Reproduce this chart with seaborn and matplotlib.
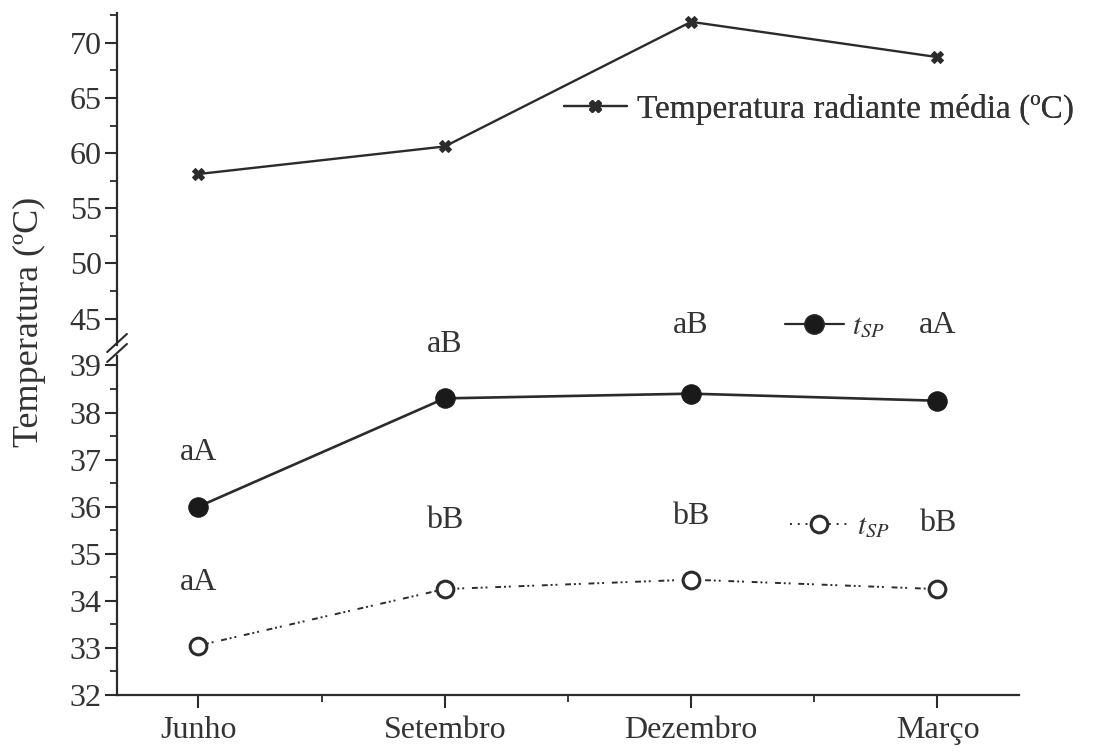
import numpy as np
import pandas as pd
import matplotlib
matplotlib.use("Agg")
import matplotlib.pyplot as plt
from matplotlib.ticker import MultipleLocator
from matplotlib.lines import Line2D
import seaborn as sns

# values
meses = ["Junho", "Setembro", "Dezembro", "Março"]
trm = [58.1, 60.6, 71.9, 68.7]          # temperatura radiante media
tsp_sol = [36.0, 38.3, 38.4, 38.25]     # t_SP (filled)
tsp_somb = [33.05, 34.25, 34.45, 34.25] # t_SP (open)
letras_sol = ["aA", "aB", "aB", "aA"]
letras_somb = ["aA", "bB", "bB", "bB"]
y_letras_sol = [37.15, 39.45, 39.85, 39.85]
y_letras_somb = [34.4, 35.7, 35.8, 35.65]

sns.set_theme(style="ticks")
plt.rcParams["font.family"] = ["Liberation Serif", "DejaVu Serif"]
plt.rcParams["mathtext.fontset"] = "stix"
ink = "#2b2b2b"
fs = 23

fig = plt.figure(figsize=(10.99, 7.54), dpi=100)
ax_top = fig.add_axes([0.1065, 1 - 345 / 754, 0.8205, (345 - 13) / 754])
ax_bot = fig.add_axes([0.1065, 1 - 695 / 754, 0.8205, (695 - 356) / 754])

df = pd.DataFrame({"mes": meses, "trm": trm, "sol": tsp_sol, "somb": tsp_somb})
df["x"] = np.arange(len(meses))

sns.lineplot(data=df, x="x", y="trm", ax=ax_top, color=ink, lw=1.7,
             marker="X", markersize=8, markeredgecolor=ink, markerfacecolor=ink)
sns.lineplot(data=df, x="x", y="sol", ax=ax_bot, color=ink, lw=1.9,
             marker="o", markersize=14, markerfacecolor="#1a1a1a", markeredgecolor="#1a1a1a")
sns.lineplot(data=df, x="x", y="somb", ax=ax_bot, color=ink, lw=1.4,
             linestyle=(0, (3, 1.5, 1, 1.5, 1, 4)),
             marker="o", markersize=12, markerfacecolor="white",
             markeredgecolor=ink, markeredgewidth=2.2)

for ax in (ax_top, ax_bot):
    ax.set_xlim(-0.33, 3.33)
    ax.set_xlabel("")
    ax.set_ylabel("")
    sns.despine(ax=ax)
    for s in ("left", "bottom"):
        ax.spines[s].set_linewidth(1.6)
        ax.spines[s].set_color(ink)
    ax.tick_params(axis="both", which="major", direction="out", length=9,
                   width=1.5, color=ink, labelsize=fs, labelcolor="#333333", pad=2)
    ax.tick_params(axis="both", which="minor", direction="out", length=5,
                   width=1.3, color=ink)

ax_top.set_ylim(42.6, 72.7)
ax_top.yaxis.set_major_locator(MultipleLocator(5))
ax_top.yaxis.set_minor_locator(MultipleLocator(2.5))
ax_top.spines["bottom"].set_visible(False)
ax_top.tick_params(axis="x", which="both", bottom=False, labelbottom=False)

ax_bot.set_ylim(32, 39.2)
ax_bot.yaxis.set_major_locator(MultipleLocator(1))
ax_bot.yaxis.set_minor_locator(MultipleLocator(0.5))
ax_bot.set_xticks(range(len(meses)))
ax_bot.set_xticklabels(meses)
ax_bot.xaxis.set_minor_locator(MultipleLocator(0.5))
ax_bot.tick_params(axis="x", which="major", pad=6)

# axis break marks
kw = dict(transform=fig.transFigure, color=ink, lw=1.5, clip_on=False)
x0 = 0.1065
for yy in (1 - 343 / 754, 1 - 353 / 754):
    fig.add_artist(Line2D([x0 - 0.009, x0 + 0.009], [yy - 0.012, yy + 0.012], **kw))

# significance letters
for i in range(len(meses)):
    ax_bot.text(i, y_letras_sol[i], letras_sol[i], ha="center", va="center",
                fontsize=fs, color="#333333", clip_on=False)
    ax_bot.text(i, y_letras_somb[i], letras_somb[i], ha="center", va="center",
                fontsize=fs, color="#333333")

# legends
h1 = Line2D([], [], color=ink, lw=1.6, marker="X", markersize=8)
leg1 = ax_top.legend([h1], ["Temperatura radiante média (ºC)"], loc="center left",
                     bbox_to_anchor=(0.462, 0.71), frameon=False, fontsize=24,
                     handlelength=1.9, handletextpad=0.3, labelcolor="#333333")
h2 = Line2D([], [], color=ink, lw=1.6, marker="o", markersize=14,
            markerfacecolor="#1a1a1a")
leg2 = ax_bot.legend([h2], ["$t_{SP}$"], loc="center left",
                     bbox_to_anchor=(0.712, 1.085), frameon=False, fontsize=fs - 2,
                     handlelength=2.0, handletextpad=0.3, labelcolor="#333333")
ax_bot.add_artist(leg2)
h3 = Line2D([], [], color=ink, lw=1.4, linestyle=(0, (1, 3)), marker="o", markersize=12,
            markerfacecolor="white", markeredgewidth=2.2)
ax_bot.legend([h3], ["$t_{SP}$"], loc="center left",
              bbox_to_anchor=(0.717, 0.495), frameon=False, fontsize=fs - 2,
              handlelength=2.0, handletextpad=0.3, labelcolor="#333333")
ax_top.add_artist(leg1)

fig.text(0.027, 0.573, "Temperatura (ºC)", rotation=90, ha="center", va="center",
         fontsize=26, color="#333333")

fig.savefig("out.png", dpi=100)
